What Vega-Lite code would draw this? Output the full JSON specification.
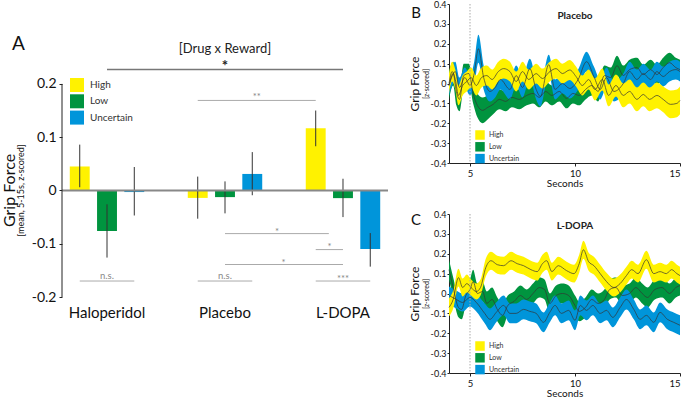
{
 "$schema": "https://vega.github.io/schema/vega-lite/v6.json",
 "padding": {"left": 1, "top": 0, "right": 0, "bottom": 0},
 "background": "white",
 "config": {
  "font": "Lato",
  "view": {"stroke": null},
  "axis": {"grid": false, "domainColor": "#222", "tickColor": "#222", "labelColor": "#111", "titleColor": "#111", "titleFontWeight": "normal"},
  "legend": {"padding": 0}
 },
 "resolve": {"scale": {"color": "independent"}, "legend": {"color": "independent"}},
 "spacing": 19,
 "datasets": {
  "bars": [
   {"drug": "Haloperidol", "r": "High", "m": 0.045, "lo": 0.006, "hi": 0.086},
   {"drug": "Haloperidol", "r": "Low", "m": -0.076, "lo": -0.126, "hi": -0.026},
   {"drug": "Haloperidol", "r": "Uncertain", "m": -0.003, "lo": -0.047, "hi": 0.044},
   {"drug": "Placebo", "r": "High", "m": -0.014, "lo": -0.053, "hi": 0.026},
   {"drug": "Placebo", "r": "Low", "m": -0.0125, "lo": -0.043, "hi": 0.017},
   {"drug": "Placebo", "r": "Uncertain", "m": 0.031, "lo": -0.009, "hi": 0.072},
   {"drug": "L-DOPA", "r": "High", "m": 0.117, "lo": 0.083, "hi": 0.15},
   {"drug": "L-DOPA", "r": "Low", "m": -0.0144, "lo": -0.05, "hi": 0.022},
   {"drug": "L-DOPA", "r": "Uncertain", "m": -0.11, "lo": -0.143, "hi": -0.08}
  ],
  "ann": [
   {"kind": "letter", "label": "A", "lx": -0.75, "ly": 0.274},
   {"kind": "axis", "x1": -0.3815, "x2": -0.3815, "y": -0.2, "y2": 0.2},
   {"kind": "head", "label": "[Drug x Reward]", "lx": 1, "ly": 0.266},
   {"kind": "main", "x1": 0, "x2": 2, "y": 0.227, "label": "*", "lx": 1, "ly": 0.234},
   {"kind": "sub", "x1": 0.769, "x2": 1.769, "y": 0.169, "label": "**", "lx": 1.269, "ly": 0.176},
   {"kind": "sub", "x1": 1.0, "x2": 1.88, "y": -0.081, "label": "*", "lx": 1.44, "ly": -0.078},
   {"kind": "sub", "x1": 1.769, "x2": 2.0, "y": -0.111, "label": "*", "lx": 1.885, "ly": -0.106},
   {"kind": "sub", "x1": 1.0, "x2": 2.0, "y": -0.139, "label": "*", "lx": 1.497, "ly": -0.136},
   {"kind": "sub", "x1": -0.231, "x2": 0.231, "y": -0.17, "label": "n.s.", "lx": 0, "ly": -0.161},
   {"kind": "sub", "x1": 0.769, "x2": 1.231, "y": -0.17, "label": "n.s.", "lx": 1, "ly": -0.161},
   {"kind": "sub", "x1": 1.769, "x2": 2.231, "y": -0.17, "label": "***", "lx": 2, "ly": -0.166}
  ],
  "ts": [
   {"p":"Placebo","r":"Low","t":4.0,"m":-0.01,"e":0.07},
   {"p":"Placebo","r":"Low","t":4.2,"m":0.05,"e":0.06},
   {"p":"Placebo","r":"Low","t":4.35,"m":-0.04,"e":0.07},
   {"p":"Placebo","r":"Low","t":4.5,"m":-0.08,"e":0.06},
   {"p":"Placebo","r":"Low","t":4.7,"m":0.04,"e":0.06},
   {"p":"Placebo","r":"Low","t":4.95,"m":0.05,"e":0.05},
   {"p":"Placebo","r":"Low","t":5.15,"m":-0.05,"e":0.05},
   {"p":"Placebo","r":"Low","t":5.35,"m":-0.11,"e":0.06},
   {"p":"Placebo","r":"Low","t":5.6,"m":-0.135,"e":0.065},
   {"p":"Placebo","r":"Low","t":5.85,"m":-0.12,"e":0.06},
   {"p":"Placebo","r":"Low","t":6.1,"m":-0.105,"e":0.05},
   {"p":"Placebo","r":"Low","t":6.4,"m":-0.08,"e":0.05},
   {"p":"Placebo","r":"Low","t":6.7,"m":-0.09,"e":0.05},
   {"p":"Placebo","r":"Low","t":7.0,"m":-0.07,"e":0.05},
   {"p":"Placebo","r":"Low","t":7.35,"m":-0.08,"e":0.05},
   {"p":"Placebo","r":"Low","t":7.7,"m":-0.06,"e":0.05},
   {"p":"Placebo","r":"Low","t":8.0,"m":-0.05,"e":0.05},
   {"p":"Placebo","r":"Low","t":8.3,"m":-0.07,"e":0.05},
   {"p":"Placebo","r":"Low","t":8.6,"m":-0.04,"e":0.05},
   {"p":"Placebo","r":"Low","t":8.9,"m":-0.06,"e":0.05},
   {"p":"Placebo","r":"Low","t":9.25,"m":-0.04,"e":0.05},
   {"p":"Placebo","r":"Low","t":9.6,"m":-0.075,"e":0.05},
   {"p":"Placebo","r":"Low","t":9.9,"m":-0.05,"e":0.05},
   {"p":"Placebo","r":"Low","t":10.2,"m":-0.06,"e":0.05},
   {"p":"Placebo","r":"Low","t":10.5,"m":-0.03,"e":0.05},
   {"p":"Placebo","r":"Low","t":10.8,"m":-0.01,"e":0.05},
   {"p":"Placebo","r":"Low","t":11.1,"m":-0.04,"e":0.05},
   {"p":"Placebo","r":"Low","t":11.4,"m":0.04,"e":0.05},
   {"p":"Placebo","r":"Low","t":11.7,"m":0.03,"e":0.05},
   {"p":"Placebo","r":"Low","t":12.0,"m":0.09,"e":0.05},
   {"p":"Placebo","r":"Low","t":12.3,"m":0.04,"e":0.05},
   {"p":"Placebo","r":"Low","t":12.6,"m":0.07,"e":0.05},
   {"p":"Placebo","r":"Low","t":12.95,"m":0.08,"e":0.05},
   {"p":"Placebo","r":"Low","t":13.25,"m":0.045,"e":0.05},
   {"p":"Placebo","r":"Low","t":13.6,"m":0.07,"e":0.05},
   {"p":"Placebo","r":"Low","t":13.9,"m":0.045,"e":0.05},
   {"p":"Placebo","r":"Low","t":14.2,"m":0.08,"e":0.05},
   {"p":"Placebo","r":"Low","t":14.5,"m":0.105,"e":0.05},
   {"p":"Placebo","r":"Low","t":14.8,"m":0.08,"e":0.05},
   {"p":"Placebo","r":"Low","t":15.0,"m":0.07,"e":0.05},
   {"p":"Placebo","r":"Uncertain","t":4.0,"m":-0.01,"e":0.05},
   {"p":"Placebo","r":"Uncertain","t":4.3,"m":0.06,"e":0.05},
   {"p":"Placebo","r":"Uncertain","t":4.5,"m":-0.02,"e":0.05},
   {"p":"Placebo","r":"Uncertain","t":4.75,"m":0.03,"e":0.05},
   {"p":"Placebo","r":"Uncertain","t":5.0,"m":-0.01,"e":0.05},
   {"p":"Placebo","r":"Uncertain","t":5.2,"m":0.05,"e":0.06},
   {"p":"Placebo","r":"Uncertain","t":5.4,"m":0.175,"e":0.07},
   {"p":"Placebo","r":"Uncertain","t":5.65,"m":0.03,"e":0.06},
   {"p":"Placebo","r":"Uncertain","t":5.95,"m":-0.04,"e":0.05},
   {"p":"Placebo","r":"Uncertain","t":6.2,"m":-0.02,"e":0.05},
   {"p":"Placebo","r":"Uncertain","t":6.45,"m":0.02,"e":0.05},
   {"p":"Placebo","r":"Uncertain","t":6.9,"m":-0.03,"e":0.05},
   {"p":"Placebo","r":"Uncertain","t":7.2,"m":0.04,"e":0.05},
   {"p":"Placebo","r":"Uncertain","t":7.5,"m":-0.02,"e":0.05},
   {"p":"Placebo","r":"Uncertain","t":7.85,"m":0.075,"e":0.05},
   {"p":"Placebo","r":"Uncertain","t":8.15,"m":-0.03,"e":0.05},
   {"p":"Placebo","r":"Uncertain","t":8.35,"m":-0.065,"e":0.05},
   {"p":"Placebo","r":"Uncertain","t":8.75,"m":0.095,"e":0.05},
   {"p":"Placebo","r":"Uncertain","t":9.05,"m":-0.03,"e":0.05},
   {"p":"Placebo","r":"Uncertain","t":9.4,"m":0.0,"e":0.05},
   {"p":"Placebo","r":"Uncertain","t":9.75,"m":-0.025,"e":0.05},
   {"p":"Placebo","r":"Uncertain","t":10.15,"m":0.02,"e":0.05},
   {"p":"Placebo","r":"Uncertain","t":10.55,"m":0.11,"e":0.05},
   {"p":"Placebo","r":"Uncertain","t":10.9,"m":0.035,"e":0.05},
   {"p":"Placebo","r":"Uncertain","t":11.2,"m":-0.03,"e":0.05},
   {"p":"Placebo","r":"Uncertain","t":11.5,"m":0.03,"e":0.05},
   {"p":"Placebo","r":"Uncertain","t":11.85,"m":-0.04,"e":0.05},
   {"p":"Placebo","r":"Uncertain","t":12.3,"m":0.0,"e":0.05},
   {"p":"Placebo","r":"Uncertain","t":12.6,"m":0.06,"e":0.05},
   {"p":"Placebo","r":"Uncertain","t":12.95,"m":0.02,"e":0.05},
   {"p":"Placebo","r":"Uncertain","t":13.25,"m":0.05,"e":0.05},
   {"p":"Placebo","r":"Uncertain","t":13.6,"m":0.02,"e":0.05},
   {"p":"Placebo","r":"Uncertain","t":13.9,"m":0.06,"e":0.05},
   {"p":"Placebo","r":"Uncertain","t":14.2,"m":0.035,"e":0.05},
   {"p":"Placebo","r":"Uncertain","t":14.5,"m":0.06,"e":0.05},
   {"p":"Placebo","r":"Uncertain","t":14.8,"m":0.07,"e":0.05},
   {"p":"Placebo","r":"Uncertain","t":15.0,"m":0.06,"e":0.05},
   {"p":"Placebo","r":"High","t":4.0,"m":0.0,"e":0.05},
   {"p":"Placebo","r":"High","t":4.15,"m":0.06,"e":0.05},
   {"p":"Placebo","r":"High","t":4.3,"m":0.02,"e":0.05},
   {"p":"Placebo","r":"High","t":4.45,"m":-0.06,"e":0.05},
   {"p":"Placebo","r":"High","t":4.65,"m":-0.01,"e":0.05},
   {"p":"Placebo","r":"High","t":4.85,"m":0.01,"e":0.05},
   {"p":"Placebo","r":"High","t":5.05,"m":0.03,"e":0.05},
   {"p":"Placebo","r":"High","t":5.3,"m":-0.01,"e":0.05},
   {"p":"Placebo","r":"High","t":5.55,"m":0.03,"e":0.05},
   {"p":"Placebo","r":"High","t":5.8,"m":0.04,"e":0.05},
   {"p":"Placebo","r":"High","t":6.05,"m":0.02,"e":0.05},
   {"p":"Placebo","r":"High","t":6.35,"m":0.06,"e":0.05},
   {"p":"Placebo","r":"High","t":6.6,"m":0.075,"e":0.05},
   {"p":"Placebo","r":"High","t":6.9,"m":0.06,"e":0.05},
   {"p":"Placebo","r":"High","t":7.2,"m":0.01,"e":0.05},
   {"p":"Placebo","r":"High","t":7.5,"m":0.06,"e":0.05},
   {"p":"Placebo","r":"High","t":7.8,"m":0.02,"e":0.05},
   {"p":"Placebo","r":"High","t":8.15,"m":0.05,"e":0.05},
   {"p":"Placebo","r":"High","t":8.45,"m":0.025,"e":0.05},
   {"p":"Placebo","r":"High","t":8.8,"m":0.06,"e":0.05},
   {"p":"Placebo","r":"High","t":9.1,"m":0.075,"e":0.05},
   {"p":"Placebo","r":"High","t":9.4,"m":0.05,"e":0.05},
   {"p":"Placebo","r":"High","t":9.75,"m":0.068,"e":0.05},
   {"p":"Placebo","r":"High","t":10.05,"m":0.035,"e":0.05},
   {"p":"Placebo","r":"High","t":10.35,"m":-0.01,"e":0.05},
   {"p":"Placebo","r":"High","t":10.65,"m":0.02,"e":0.05},
   {"p":"Placebo","r":"High","t":10.95,"m":-0.03,"e":0.055},
   {"p":"Placebo","r":"High","t":11.3,"m":0.02,"e":0.055},
   {"p":"Placebo","r":"High","t":11.6,"m":-0.06,"e":0.055},
   {"p":"Placebo","r":"High","t":11.95,"m":-0.01,"e":0.055},
   {"p":"Placebo","r":"High","t":12.3,"m":-0.06,"e":0.06},
   {"p":"Placebo","r":"High","t":12.6,"m":-0.04,"e":0.06},
   {"p":"Placebo","r":"High","t":12.95,"m":-0.08,"e":0.06},
   {"p":"Placebo","r":"High","t":13.25,"m":-0.055,"e":0.06},
   {"p":"Placebo","r":"High","t":13.55,"m":-0.08,"e":0.06},
   {"p":"Placebo","r":"High","t":13.9,"m":-0.06,"e":0.065},
   {"p":"Placebo","r":"High","t":14.2,"m":-0.08,"e":0.065},
   {"p":"Placebo","r":"High","t":14.55,"m":-0.105,"e":0.07},
   {"p":"Placebo","r":"High","t":14.85,"m":-0.1,"e":0.07},
   {"p":"Placebo","r":"High","t":15.0,"m":-0.085,"e":0.07},
   {"p":"L-DOPA","r":"Low","t":4.0,"m":0.12,"e":0.05},
   {"p":"L-DOPA","r":"Low","t":4.2,"m":0.03,"e":0.05},
   {"p":"L-DOPA","r":"Low","t":4.45,"m":-0.07,"e":0.05},
   {"p":"L-DOPA","r":"Low","t":4.6,"m":-0.08,"e":0.05},
   {"p":"L-DOPA","r":"Low","t":4.8,"m":-0.01,"e":0.05},
   {"p":"L-DOPA","r":"Low","t":5.0,"m":0.02,"e":0.05},
   {"p":"L-DOPA","r":"Low","t":5.15,"m":0.06,"e":0.06},
   {"p":"L-DOPA","r":"Low","t":5.35,"m":0.0,"e":0.05},
   {"p":"L-DOPA","r":"Low","t":5.6,"m":0.01,"e":0.05},
   {"p":"L-DOPA","r":"Low","t":5.8,"m":-0.05,"e":0.06},
   {"p":"L-DOPA","r":"Low","t":6.05,"m":-0.03,"e":0.06},
   {"p":"L-DOPA","r":"Low","t":6.3,"m":-0.08,"e":0.06},
   {"p":"L-DOPA","r":"Low","t":6.55,"m":-0.11,"e":0.06},
   {"p":"L-DOPA","r":"Low","t":6.8,"m":-0.06,"e":0.05},
   {"p":"L-DOPA","r":"Low","t":7.1,"m":-0.04,"e":0.05},
   {"p":"L-DOPA","r":"Low","t":7.4,"m":-0.01,"e":0.05},
   {"p":"L-DOPA","r":"Low","t":7.7,"m":-0.03,"e":0.05},
   {"p":"L-DOPA","r":"Low","t":8.0,"m":0.0,"e":0.05},
   {"p":"L-DOPA","r":"Low","t":8.3,"m":0.03,"e":0.05},
   {"p":"L-DOPA","r":"Low","t":8.55,"m":0.02,"e":0.05},
   {"p":"L-DOPA","r":"Low","t":8.8,"m":-0.05,"e":0.05},
   {"p":"L-DOPA","r":"Low","t":9.1,"m":-0.01,"e":0.05},
   {"p":"L-DOPA","r":"Low","t":9.4,"m":0.0,"e":0.05},
   {"p":"L-DOPA","r":"Low","t":9.7,"m":-0.01,"e":0.05},
   {"p":"L-DOPA","r":"Low","t":10.0,"m":-0.06,"e":0.05},
   {"p":"L-DOPA","r":"Low","t":10.2,"m":-0.09,"e":0.05},
   {"p":"L-DOPA","r":"Low","t":10.5,"m":-0.07,"e":0.05},
   {"p":"L-DOPA","r":"Low","t":10.8,"m":-0.03,"e":0.05},
   {"p":"L-DOPA","r":"Low","t":11.1,"m":-0.05,"e":0.05},
   {"p":"L-DOPA","r":"Low","t":11.4,"m":-0.03,"e":0.05},
   {"p":"L-DOPA","r":"Low","t":11.65,"m":0.02,"e":0.05},
   {"p":"L-DOPA","r":"Low","t":11.95,"m":0.03,"e":0.05},
   {"p":"L-DOPA","r":"Low","t":12.25,"m":-0.01,"e":0.05},
   {"p":"L-DOPA","r":"Low","t":12.6,"m":0.0,"e":0.05},
   {"p":"L-DOPA","r":"Low","t":12.9,"m":0.03,"e":0.05},
   {"p":"L-DOPA","r":"Low","t":13.2,"m":0.0,"e":0.05},
   {"p":"L-DOPA","r":"Low","t":13.45,"m":-0.02,"e":0.05},
   {"p":"L-DOPA","r":"Low","t":13.8,"m":0.02,"e":0.05},
   {"p":"L-DOPA","r":"Low","t":14.15,"m":0.03,"e":0.05},
   {"p":"L-DOPA","r":"Low","t":14.5,"m":0.0,"e":0.05},
   {"p":"L-DOPA","r":"Low","t":14.8,"m":0.03,"e":0.05},
   {"p":"L-DOPA","r":"Low","t":15.0,"m":0.04,"e":0.05},
   {"p":"L-DOPA","r":"Uncertain","t":4.0,"m":-0.01,"e":0.045},
   {"p":"L-DOPA","r":"Uncertain","t":4.35,"m":-0.03,"e":0.045},
   {"p":"L-DOPA","r":"Uncertain","t":4.65,"m":-0.045,"e":0.045},
   {"p":"L-DOPA","r":"Uncertain","t":5.0,"m":-0.02,"e":0.045},
   {"p":"L-DOPA","r":"Uncertain","t":5.3,"m":-0.045,"e":0.045},
   {"p":"L-DOPA","r":"Uncertain","t":5.7,"m":-0.1,"e":0.05},
   {"p":"L-DOPA","r":"Uncertain","t":5.95,"m":-0.13,"e":0.055},
   {"p":"L-DOPA","r":"Uncertain","t":6.25,"m":-0.095,"e":0.05},
   {"p":"L-DOPA","r":"Uncertain","t":6.6,"m":-0.06,"e":0.05},
   {"p":"L-DOPA","r":"Uncertain","t":6.9,"m":-0.1,"e":0.05},
   {"p":"L-DOPA","r":"Uncertain","t":7.2,"m":-0.1,"e":0.05},
   {"p":"L-DOPA","r":"Uncertain","t":7.55,"m":-0.08,"e":0.05},
   {"p":"L-DOPA","r":"Uncertain","t":7.85,"m":-0.09,"e":0.05},
   {"p":"L-DOPA","r":"Uncertain","t":8.15,"m":-0.1,"e":0.05},
   {"p":"L-DOPA","r":"Uncertain","t":8.5,"m":-0.145,"e":0.05},
   {"p":"L-DOPA","r":"Uncertain","t":8.8,"m":-0.095,"e":0.05},
   {"p":"L-DOPA","r":"Uncertain","t":9.05,"m":-0.06,"e":0.05},
   {"p":"L-DOPA","r":"Uncertain","t":9.35,"m":-0.1,"e":0.05},
   {"p":"L-DOPA","r":"Uncertain","t":9.7,"m":-0.085,"e":0.05},
   {"p":"L-DOPA","r":"Uncertain","t":10.0,"m":-0.135,"e":0.05},
   {"p":"L-DOPA","r":"Uncertain","t":10.25,"m":-0.06,"e":0.05},
   {"p":"L-DOPA","r":"Uncertain","t":10.55,"m":-0.085,"e":0.05},
   {"p":"L-DOPA","r":"Uncertain","t":10.85,"m":-0.06,"e":0.05},
   {"p":"L-DOPA","r":"Uncertain","t":11.2,"m":-0.1,"e":0.05},
   {"p":"L-DOPA","r":"Uncertain","t":11.5,"m":-0.085,"e":0.05},
   {"p":"L-DOPA","r":"Uncertain","t":11.8,"m":-0.12,"e":0.05},
   {"p":"L-DOPA","r":"Uncertain","t":12.15,"m":-0.07,"e":0.05},
   {"p":"L-DOPA","r":"Uncertain","t":12.45,"m":-0.03,"e":0.05},
   {"p":"L-DOPA","r":"Uncertain","t":12.8,"m":-0.08,"e":0.05},
   {"p":"L-DOPA","r":"Uncertain","t":13.1,"m":-0.13,"e":0.05},
   {"p":"L-DOPA","r":"Uncertain","t":13.4,"m":-0.11,"e":0.05},
   {"p":"L-DOPA","r":"Uncertain","t":13.75,"m":-0.145,"e":0.05},
   {"p":"L-DOPA","r":"Uncertain","t":14.05,"m":-0.095,"e":0.05},
   {"p":"L-DOPA","r":"Uncertain","t":14.4,"m":-0.13,"e":0.05},
   {"p":"L-DOPA","r":"Uncertain","t":14.7,"m":-0.145,"e":0.05},
   {"p":"L-DOPA","r":"Uncertain","t":15.0,"m":-0.16,"e":0.05},
   {"p":"L-DOPA","r":"High","t":4.0,"m":-0.07,"e":0.045},
   {"p":"L-DOPA","r":"High","t":4.2,"m":-0.03,"e":0.045},
   {"p":"L-DOPA","r":"High","t":4.45,"m":0.08,"e":0.045},
   {"p":"L-DOPA","r":"High","t":4.65,"m":0.03,"e":0.045},
   {"p":"L-DOPA","r":"High","t":4.85,"m":0.05,"e":0.045},
   {"p":"L-DOPA","r":"High","t":5.05,"m":0.03,"e":0.04},
   {"p":"L-DOPA","r":"High","t":5.3,"m":0.01,"e":0.04},
   {"p":"L-DOPA","r":"High","t":5.5,"m":0.03,"e":0.04},
   {"p":"L-DOPA","r":"High","t":5.75,"m":0.13,"e":0.045},
   {"p":"L-DOPA","r":"High","t":6.0,"m":0.165,"e":0.045},
   {"p":"L-DOPA","r":"High","t":6.3,"m":0.145,"e":0.045},
   {"p":"L-DOPA","r":"High","t":6.6,"m":0.14,"e":0.045},
   {"p":"L-DOPA","r":"High","t":6.95,"m":0.165,"e":0.045},
   {"p":"L-DOPA","r":"High","t":7.25,"m":0.15,"e":0.045},
   {"p":"L-DOPA","r":"High","t":7.55,"m":0.14,"e":0.045},
   {"p":"L-DOPA","r":"High","t":7.9,"m":0.12,"e":0.045},
   {"p":"L-DOPA","r":"High","t":8.2,"m":0.11,"e":0.045},
   {"p":"L-DOPA","r":"High","t":8.45,"m":0.15,"e":0.045},
   {"p":"L-DOPA","r":"High","t":8.65,"m":0.165,"e":0.045},
   {"p":"L-DOPA","r":"High","t":8.9,"m":0.11,"e":0.045},
   {"p":"L-DOPA","r":"High","t":9.2,"m":0.14,"e":0.045},
   {"p":"L-DOPA","r":"High","t":9.6,"m":0.115,"e":0.045},
   {"p":"L-DOPA","r":"High","t":9.95,"m":0.1,"e":0.045},
   {"p":"L-DOPA","r":"High","t":10.2,"m":0.15,"e":0.045},
   {"p":"L-DOPA","r":"High","t":10.4,"m":0.22,"e":0.045},
   {"p":"L-DOPA","r":"High","t":10.65,"m":0.16,"e":0.045},
   {"p":"L-DOPA","r":"High","t":10.9,"m":0.14,"e":0.045},
   {"p":"L-DOPA","r":"High","t":11.2,"m":0.1,"e":0.045},
   {"p":"L-DOPA","r":"High","t":11.5,"m":0.06,"e":0.045},
   {"p":"L-DOPA","r":"High","t":11.85,"m":0.03,"e":0.045},
   {"p":"L-DOPA","r":"High","t":12.15,"m":0.05,"e":0.045},
   {"p":"L-DOPA","r":"High","t":12.45,"m":0.09,"e":0.045},
   {"p":"L-DOPA","r":"High","t":12.7,"m":0.12,"e":0.045},
   {"p":"L-DOPA","r":"High","t":13.0,"m":0.1,"e":0.045},
   {"p":"L-DOPA","r":"High","t":13.4,"m":0.17,"e":0.045},
   {"p":"L-DOPA","r":"High","t":13.75,"m":0.1,"e":0.045},
   {"p":"L-DOPA","r":"High","t":14.05,"m":0.11,"e":0.045},
   {"p":"L-DOPA","r":"High","t":14.35,"m":0.1,"e":0.045},
   {"p":"L-DOPA","r":"High","t":14.6,"m":0.12,"e":0.045},
   {"p":"L-DOPA","r":"High","t":14.85,"m":0.1,"e":0.045},
   {"p":"L-DOPA","r":"High","t":15.0,"m":0.09,"e":0.045}
  ]
 },
 "hconcat": [
  {
   "width": 326,
   "height": 293,
   "resolve": {"scale": {"x": "independent"}, "axis": {"y": "independent", "x": "independent"}},
   "layer": [
    {
     "data": {"name": "bars"},
     "encoding": {
      "x": {"field": "drug", "type": "nominal", "sort": ["Haloperidol", "Placebo", "L-DOPA"], "scale": {"paddingInner": 0.369, "paddingOuter": 0.066}, "axis": {"title": null, "domain": false, "ticks": false, "labelAngle": 0, "labelFontSize": 15, "labelPadding": 8, "labelColor": "#111"}},
      "xOffset": {"field": "r", "type": "nominal", "sort": ["High", "Low", "Uncertain"], "scale": {"paddingInner": 0.27, "paddingOuter": 0}}
     },
     "layer": [
      {
       "mark": {"type": "bar"},
       "encoding": {
        "y": {"field": "m", "type": "quantitative", "title": "[mean, 5-15s, z-scored]", "scale": {"domain": [-0.2, 0.35], "nice": false}, "axis": {"orient": "left", "values": [-0.2, -0.1, 0, 0.1, 0.2], "domain": false, "labelExpr": "datum.value < 0 ? '-' + format(-datum.value, '~g') : format(datum.value, '~g')", "labelFontSize": 14, "tickSize": 3, "labelPadding": 3, "titleFontSize": 9, "titlePadding": 6, "titleY": 186}},
        "color": {"field": "r", "type": "nominal", "scale": {"domain": ["High", "Low", "Uncertain"], "range": ["#FFF200", "#00943F", "#0095DA"]}, "legend": {"title": null, "orient": "none", "legendX": 8, "legendY": 74, "symbolType": "square", "symbolSize": 196, "symbolStrokeWidth": 0, "labelFontSize": 10, "rowPadding": 2.3, "labelOffset": 6, "labelColor": "#333"}}
       }
      },
      {
       "mark": {"type": "rule", "color": "#333", "strokeWidth": 1},
       "encoding": {
        "y": {"field": "lo", "type": "quantitative", "title": "[mean, 5-15s, z-scored]"},
        "y2": {"field": "hi"}
       }
      }
     ]
    },
    {
     "data": {"values": [{"v": 0}]},
     "mark": {"type": "rule", "color": "#888", "strokeWidth": 2},
     "encoding": {
      "y": {"field": "v", "type": "quantitative", "axis": {"orient": "left", "title": "Grip Force", "titleFontSize": 16, "labels": false, "ticks": false, "domain": false, "titlePadding": 45, "titleY": 186}}
     }
    },
    {
     "data": {"name": "ann"},
     "layer": [
      {
       "transform": [{"filter": "datum.kind == 'axis'"}],
       "mark": {"type": "rule", "color": "#222", "strokeWidth": 1},
       "encoding": {
        "x": {"field": "x1", "type": "quantitative", "scale": {"domain": [-0.3815, 2.3815], "nice": false, "zero": false}, "axis": null},
        "x2": {"field": "x2"},
        "y": {"field": "y", "type": "quantitative", "axis": null},
        "y2": {"field": "y2"}
       }
      },
      {
       "transform": [{"filter": "datum.kind == 'main'"}],
       "mark": {"type": "rule", "color": "#777", "strokeWidth": 1.5},
       "encoding": {
        "x": {"field": "x1", "type": "quantitative", "scale": {"domain": [-0.3815, 2.3815], "nice": false, "zero": false}, "axis": null},
        "x2": {"field": "x2"},
        "y": {"field": "y", "type": "quantitative", "axis": null}
       }
      },
      {
       "transform": [{"filter": "datum.kind == 'sub'"}],
       "mark": {"type": "rule", "color": "#aaa", "strokeWidth": 1},
       "encoding": {
        "x": {"field": "x1", "type": "quantitative", "scale": {"domain": [-0.3815, 2.3815], "nice": false, "zero": false}, "axis": null},
        "x2": {"field": "x2"},
        "y": {"field": "y", "type": "quantitative", "axis": null}
       }
      },
      {
       "transform": [{"filter": "datum.kind == 'sub'"}],
       "mark": {"type": "text", "fontSize": 9.5, "color": "#888", "baseline": "middle"},
       "encoding": {
        "x": {"field": "lx", "type": "quantitative", "scale": {"domain": [-0.3815, 2.3815], "nice": false, "zero": false}, "axis": null},
        "y": {"field": "ly", "type": "quantitative", "axis": null},
        "text": {"field": "label"}
       }
      },
      {
       "transform": [{"filter": "datum.kind == 'main'"}],
       "mark": {"type": "text", "fontSize": 15, "color": "#222", "baseline": "middle", "fontWeight": "bold"},
       "encoding": {
        "x": {"field": "lx", "type": "quantitative", "scale": {"domain": [-0.3815, 2.3815], "nice": false, "zero": false}, "axis": null},
        "y": {"field": "ly", "type": "quantitative", "axis": null},
        "text": {"field": "label"}
       }
      },
      {
       "transform": [{"filter": "datum.kind == 'head'"}],
       "mark": {"type": "text", "fontSize": 13, "color": "#222", "baseline": "middle"},
       "encoding": {
        "x": {"field": "lx", "type": "quantitative", "scale": {"domain": [-0.3815, 2.3815], "nice": false, "zero": false}, "axis": null},
        "y": {"field": "ly", "type": "quantitative", "axis": null},
        "text": {"field": "label"}
       }
      },
      {
       "transform": [{"filter": "datum.kind == 'letter'"}],
       "mark": {"type": "text", "fontSize": 19, "color": "#111", "baseline": "middle"},
       "encoding": {
        "x": {"field": "lx", "type": "quantitative", "scale": {"domain": [-0.3815, 2.3815], "nice": false, "zero": false}, "axis": null},
        "y": {"field": "ly", "type": "quantitative", "axis": null},
        "text": {"field": "label"}
       }
      }
     ]
    }
   ]
  },
  {
   "spacing": 21,
   "resolve": {"scale": {"color": "independent"}, "legend": {"color": "independent"}},
   "vconcat": [
    {
     "width": 231,
     "height": 159,
     "resolve": {"axis": {"y": "independent"}},
     "layer": [
      {
       "data": {"name": "ts"},
       "transform": [{"filter": "datum.p == 'Placebo'"}],
       "mark": {"type": "errorband", "interpolate": "monotone", "band": {"opacity": 1}},
       "encoding": {
        "x": {"field": "t", "type": "quantitative", "scale": {"domain": [4, 15], "nice": false, "zero": false}, "axis": {"values": [5, 10, 15], "title": "Seconds", "titleFontSize": 10, "labelFontSize": 9.5, "tickSize": 3, "labelPadding": 2, "titlePadding": 1}},
        "y": {"field": "m", "type": "quantitative", "title": "[z-scored]", "scale": {"domain": [-0.4, 0.4], "nice": false}, "axis": {"orient": "left", "values": [-0.4, -0.3, -0.2, -0.1, 0, 0.1, 0.2, 0.3, 0.4], "labelExpr": "datum.value < 0 ? '-' + format(-datum.value, '~g') : format(datum.value, '~g')", "labelFontSize": 9, "tickSize": 2, "labelPadding": 1, "titleFontSize": 7, "titlePadding": 1}},
        "yError": {"field": "e"},
        "color": {"field": "r", "type": "nominal", "scale": {"domain": ["High", "Low", "Uncertain"], "range": ["#FFF200", "#00943F", "#0095DA"]}, "legend": {"title": null, "orient": "none", "legendX": 26, "legendY": 126, "symbolType": "square", "symbolSize": 90, "symbolStrokeWidth": 0, "symbolOpacity": 1, "labelFontSize": 7, "rowPadding": 1.8, "labelOffset": 4, "labelColor": "#333"}}
       }
      },
      {
       "data": {"name": "ts"},
       "transform": [{"filter": "datum.p == 'Placebo'"}],
       "mark": {"type": "line", "interpolate": "monotone", "color": "#333", "strokeWidth": 0.7},
       "encoding": {
        "x": {"field": "t", "type": "quantitative"},
        "y": {"field": "m", "type": "quantitative", "axis": null},
        "detail": {"field": "r"}
       }
      },
      {
       "data": {"values": [{"t": 5}]},
       "mark": {"type": "rule", "color": "#aaa", "strokeDash": [1.5, 1.5], "strokeWidth": 1},
       "encoding": {"x": {"field": "t", "type": "quantitative"}}
      },
      {
       "data": {"values": [{"t": 10, "v": 0.34, "label": "Placebo"}]},
       "mark": {"type": "text", "fontSize": 10, "fontWeight": "bold", "color": "#222", "baseline": "middle"},
       "encoding": {
        "x": {"field": "t", "type": "quantitative"},
        "y": {"field": "v", "type": "quantitative", "axis": {"orient": "left", "title": "Grip Force", "titleFontSize": 12, "labels": false, "ticks": false, "domain": false, "titlePadding": 28}},
        "text": {"field": "label"}
       }
      },
      {
       "data": {"values": [{"t": 2.43, "v": 0.355, "label": "B"}]},
       "mark": {"type": "text", "fontSize": 15, "color": "#111", "baseline": "middle"},
       "encoding": {
        "x": {"field": "t", "type": "quantitative"},
        "y": {"field": "v", "type": "quantitative", "axis": null},
        "text": {"field": "label"}
       }
      }
     ]
    },
    {
     "width": 231,
     "height": 159,
     "resolve": {"axis": {"y": "independent"}},
     "layer": [
      {
       "data": {"name": "ts"},
       "transform": [{"filter": "datum.p == 'L-DOPA'"}],
       "mark": {"type": "errorband", "interpolate": "monotone", "band": {"opacity": 1}},
       "encoding": {
        "x": {"field": "t", "type": "quantitative", "scale": {"domain": [4, 15], "nice": false, "zero": false}, "axis": {"values": [5, 10, 15], "title": "Seconds", "titleFontSize": 10, "labelFontSize": 9.5, "tickSize": 3, "labelPadding": 2, "titlePadding": 1}},
        "y": {"field": "m", "type": "quantitative", "title": "[z-scored]", "scale": {"domain": [-0.4, 0.4], "nice": false}, "axis": {"orient": "left", "values": [-0.4, -0.3, -0.2, -0.1, 0, 0.1, 0.2, 0.3, 0.4], "labelExpr": "datum.value < 0 ? '-' + format(-datum.value, '~g') : format(datum.value, '~g')", "labelFontSize": 9, "tickSize": 2, "labelPadding": 1, "titleFontSize": 7, "titlePadding": 1}},
        "yError": {"field": "e"},
        "color": {"field": "r", "type": "nominal", "scale": {"domain": ["High", "Low", "Uncertain"], "range": ["#FFF200", "#00943F", "#0095DA"]}, "legend": {"title": null, "orient": "none", "legendX": 26, "legendY": 127, "symbolType": "square", "symbolSize": 90, "symbolStrokeWidth": 0, "symbolOpacity": 1, "labelFontSize": 7, "rowPadding": 1.8, "labelOffset": 4, "labelColor": "#333"}}
       }
      },
      {
       "data": {"name": "ts"},
       "transform": [{"filter": "datum.p == 'L-DOPA'"}],
       "mark": {"type": "line", "interpolate": "monotone", "color": "#333", "strokeWidth": 0.7},
       "encoding": {
        "x": {"field": "t", "type": "quantitative"},
        "y": {"field": "m", "type": "quantitative", "axis": null},
        "detail": {"field": "r"}
       }
      },
      {
       "data": {"values": [{"t": 5}]},
       "mark": {"type": "rule", "color": "#aaa", "strokeDash": [1.5, 1.5], "strokeWidth": 1},
       "encoding": {"x": {"field": "t", "type": "quantitative"}}
      },
      {
       "data": {"values": [{"t": 10, "v": 0.34, "label": "L-DOPA"}]},
       "mark": {"type": "text", "fontSize": 10, "fontWeight": "bold", "color": "#222", "baseline": "middle"},
       "encoding": {
        "x": {"field": "t", "type": "quantitative"},
        "y": {"field": "v", "type": "quantitative", "axis": {"orient": "left", "title": "Grip Force", "titleFontSize": 12, "labels": false, "ticks": false, "domain": false, "titlePadding": 28}},
        "text": {"field": "label"}
       }
      },
      {
       "data": {"values": [{"t": 2.43, "v": 0.37, "label": "C"}]},
       "mark": {"type": "text", "fontSize": 15, "color": "#111", "baseline": "middle"},
       "encoding": {
        "x": {"field": "t", "type": "quantitative"},
        "y": {"field": "v", "type": "quantitative", "axis": null},
        "text": {"field": "label"}
       }
      }
     ]
    }
   ]
  }
 ]
}
